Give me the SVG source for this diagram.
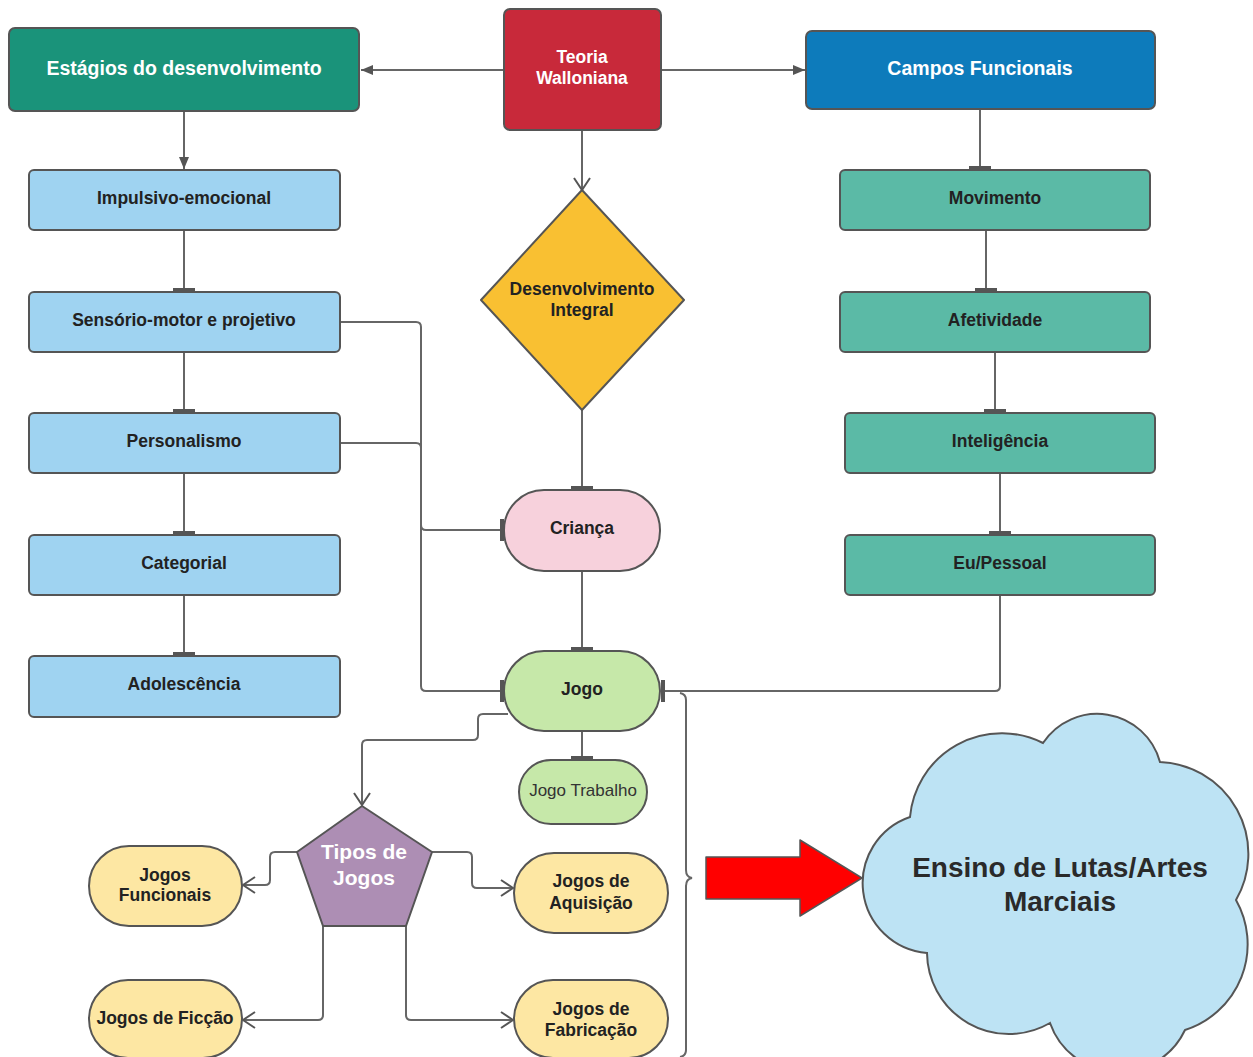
<svg xmlns="http://www.w3.org/2000/svg" width="1253" height="1057" viewBox="0 0 1253 1057">
<defs>
<style>
text{font-family:"Liberation Sans",Arial,sans-serif;font-weight:bold;text-anchor:middle;dominant-baseline:central}
.box{stroke:#555;stroke-width:2}
.lt{fill:#9fd3f1}
.gr{fill:#5bbaa6}
.yl{fill:#fde7a3}
.dk{fill:#222;font-size:17.5px}
.wt{fill:#fff}
.c{fill:none;stroke:#666;stroke-width:2}
</style>
<marker id="af" viewBox="0 0 12 12" refX="12" refY="6" markerWidth="12" markerHeight="12" markerUnits="userSpaceOnUse" orient="auto"><path d="M0,1 L12,6 L0,11 Z" fill="#555"/></marker>
<marker id="ao" viewBox="0 0 14 18" refX="13" refY="9" markerWidth="14" markerHeight="18" markerUnits="userSpaceOnUse" orient="auto"><path d="M1,1 L13,9 L1,17" fill="none" stroke="#555" stroke-width="2"/></marker>
<marker id="tee" viewBox="0 0 4 22" refX="4" refY="11" markerWidth="4" markerHeight="22" markerUnits="userSpaceOnUse" orient="auto"><path d="M0,0 H4 V22 H0 Z" fill="#555"/></marker>
</defs>
<rect width="1253" height="1057" fill="#fff"/>
<g id="connectors">
<path class="c" d="M504,70 H361" marker-end="url(#af)"/>
<path class="c" d="M661,70 H805" marker-end="url(#af)"/>
<path class="c" d="M582,130 V190" marker-end="url(#ao)"/>
<path class="c" d="M184,111 V169" marker-end="url(#af)"/>
<path class="c" d="M184,230 V292" marker-end="url(#tee)"/>
<path class="c" d="M184,352 V413" marker-end="url(#tee)"/>
<path class="c" d="M184,473 V535" marker-end="url(#tee)"/>
<path class="c" d="M184,595 V656" marker-end="url(#tee)"/>
<path class="c" d="M980,109 V170" marker-end="url(#tee)"/>
<path class="c" d="M986,230 V292" marker-end="url(#tee)"/>
<path class="c" d="M995,352 V413" marker-end="url(#tee)"/>
<path class="c" d="M1000,473 V535" marker-end="url(#tee)" stroke="#999"/>
<path class="c" d="M582,410 V490" marker-end="url(#tee)"/>
<path class="c" d="M582,571 V651" marker-end="url(#tee)"/>
<path class="c" d="M582,731 V760" marker-end="url(#tee)"/>
<path class="c" d="M340,322 H416 Q421,322 421,327 V686 Q421,691 426,691 H504" marker-end="url(#tee)"/>
<path class="c" d="M340,443 H416 Q421,443 421,448 V525 Q421,530 426,530 H504" marker-end="url(#tee)"/>
<path class="c" d="M1000,595 V686 Q1000,691 995,691 H661" marker-end="url(#tee)"/>
<path class="c" d="M508,714 H483 Q478,714 478,719 V735 Q478,740 473,740 H367 Q362,740 362,745 V805" marker-end="url(#ao)"/>
<path class="c" d="M297,852 H275 Q270,852 270,857 V880 Q270,885 265,885 H243" marker-end="url(#ao)"/>
<path class="c" d="M432,852 H467 Q472,852 472,857 V883 Q472,888 477,888 H513" marker-end="url(#ao)"/>
<path class="c" d="M323,926 V1015 Q323,1020 318,1020 H243" marker-end="url(#ao)"/>
<path class="c" d="M406,926 V1015 Q406,1020 411,1020 H513" marker-end="url(#ao)"/>
</g>
<g id="estagios"><rect class="box" x="9" y="28" width="350" height="83" rx="6" fill="#1a937a"/><text class="wt" x="184" y="68" font-size="19.5">Estágios do desenvolvimento</text></g>
<g id="teoria"><rect class="box" x="504" y="9" width="157" height="121" rx="6" fill="#c8293a"/><text class="wt" x="582" y="57" font-size="17.5">Teoria</text><text class="wt" x="582" y="78" font-size="17.5">Walloniana</text></g>
<g id="campos"><rect class="box" x="806" y="31" width="349" height="78" rx="6" fill="#0d7bbb"/><text class="wt" x="980" y="68" font-size="19.5">Campos Funcionais</text></g>
<g id="impulsivo"><rect class="box lt" x="29" y="170" width="311" height="60" rx="5"/><text class="dk" x="184" y="198">Impulsivo-emocional</text></g>
<g id="sensorio"><rect class="box lt" x="29" y="292" width="311" height="60" rx="5"/><text class="dk" x="184" y="320">Sensório-motor e projetivo</text></g>
<g id="personalismo"><rect class="box lt" x="29" y="413" width="311" height="60" rx="5"/><text class="dk" x="184" y="441">Personalismo</text></g>
<g id="categorial"><rect class="box lt" x="29" y="535" width="311" height="60" rx="5"/><text class="dk" x="184" y="563">Categorial</text></g>
<g id="adolescencia"><rect class="box lt" x="29" y="656" width="311" height="61" rx="5"/><text class="dk" x="184" y="684">Adolescência</text></g>
<g id="movimento"><rect class="box gr" x="840" y="170" width="310" height="60" rx="5"/><text class="dk" x="995" y="198">Movimento</text></g>
<g id="afetividade"><rect class="box gr" x="840" y="292" width="310" height="60" rx="5"/><text class="dk" x="995" y="320">Afetividade</text></g>
<g id="inteligencia"><rect class="box gr" x="845" y="413" width="310" height="60" rx="5"/><text class="dk" x="1000" y="441">Inteligência</text></g>
<g id="eupessoal"><rect class="box gr" x="845" y="535" width="310" height="60" rx="5"/><text class="dk" x="1000" y="563">Eu/Pessoal</text></g>
<g id="desenvolvimento"><path class="box" d="M582,190 L684,300 L582,410 L481,300 Z" fill="#f9c032" stroke-linejoin="round"/><text class="dk" x="582" y="289">Desenvolvimento</text><text class="dk" x="582" y="310">Integral</text></g>
<g id="crianca"><rect class="box" x="504" y="490" width="156" height="81" rx="40" fill="#f7d1dc"/><text class="dk" x="582" y="528">Criança</text></g>
<g id="jogo"><rect class="box" x="504" y="651" width="156" height="80" rx="40" fill="#c6e8a9"/><text class="dk" x="582" y="689">Jogo</text></g>
<g id="jogotrabalho"><rect class="box" x="519" y="760" width="128" height="64" rx="32" fill="#c6e8a9"/><text class="dk" x="583" y="790" style="font-weight:normal;font-size:17px;fill:#333">Jogo Trabalho</text></g>
<g id="tipos"><path class="box" d="M362,806 L432,852 L406,926 L323,926 L297,852 Z" fill="#ad8eb4" stroke-linejoin="round"/><text class="wt" x="364" y="851" font-size="21">Tipos de</text><text class="wt" x="364" y="877" font-size="21">Jogos</text></g>
<g id="funcionais"><rect class="box yl" x="89" y="846" width="153" height="80" rx="40"/><text class="dk" x="165" y="875">Jogos</text><text class="dk" x="165" y="895">Funcionais</text></g>
<g id="aquisicao"><rect class="box yl" x="514" y="853" width="154" height="80" rx="40"/><text class="dk" x="591" y="881">Jogos de</text><text class="dk" x="591" y="903">Aquisição</text></g>
<g id="ficcao"><rect class="box yl" x="89" y="980" width="153" height="78" rx="39"/><text class="dk" x="165" y="1018">Jogos de Ficção</text></g>
<g id="fabricacao"><rect class="box yl" x="514" y="980" width="154" height="78" rx="39"/><text class="dk" x="591" y="1009">Jogos de</text><text class="dk" x="591" y="1030">Fabricação</text></g>
<g id="chave"><path d="M680,693 Q686,694 686,700 V870 Q686,877 692,878 Q686,879 686,886 V1050 Q686,1056 680,1057" fill="none" stroke="#666" stroke-width="2"/></g>
<g id="seta"><path d="M706,857 H800 V840 L862,878 L800,916 V899 H706 Z" fill="#f00" stroke="#555" stroke-width="1.5" stroke-linejoin="round"/></g>
<g id="ensino"><path class="box" d="M910,817 A92,92 0 0 1 1043,743 A65,65 0 0 1 1160,762 A92,92 0 0 1 1236,900 A90,90 0 0 1 1185,1030 A73,73 0 0 1 1050,1023 A82,82 0 0 1 927,953 A70,70 0 0 1 910,817 Z" fill="#bde3f4"/><text x="1060" y="867" font-size="28" fill="#2a2a2a">Ensino de Lutas/Artes</text><text x="1060" y="901" font-size="28" fill="#2a2a2a">Marciais</text></g>
</svg>
